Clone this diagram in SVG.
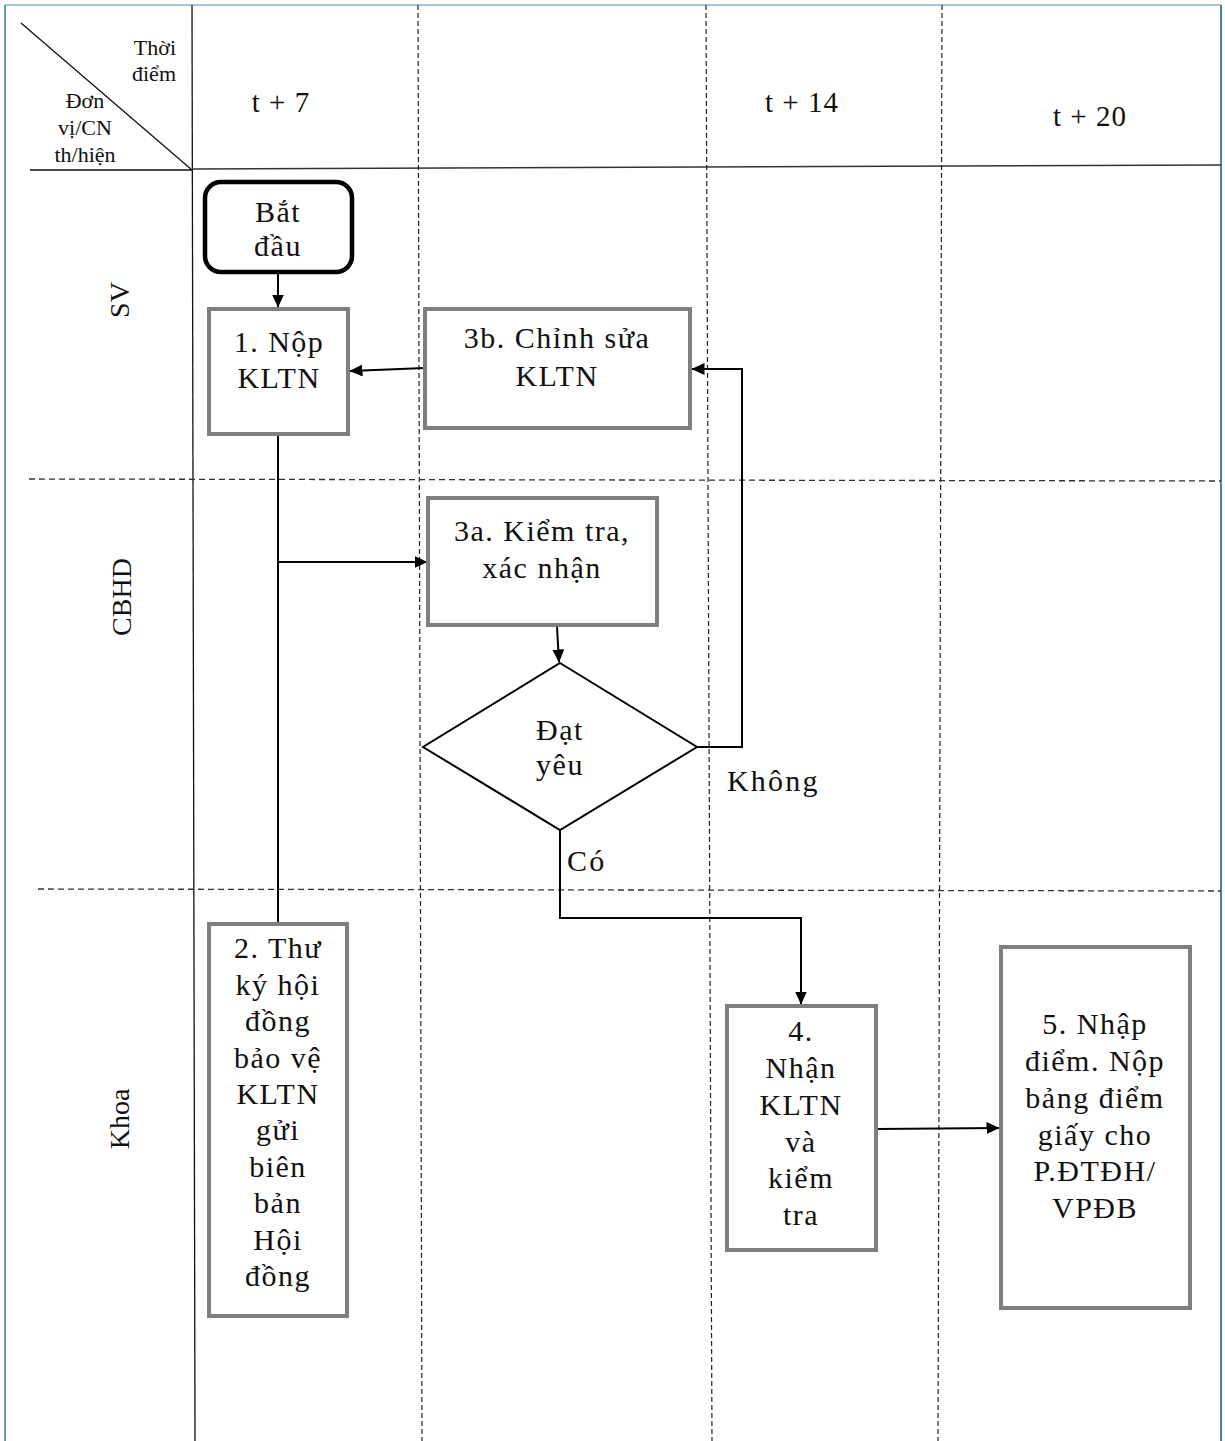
<svg xmlns="http://www.w3.org/2000/svg" width="1225" height="1441" viewBox="0 0 1225 1441">
<style>
  text { font-family: "Liberation Serif", "Times New Roman", "DejaVu Serif", serif; fill: #111; }
  .hd { font-size: 22px; }
  .col { font-size: 29px; letter-spacing: 1px; text-anchor: middle; }
  .lane { font-size: 28px; text-anchor: middle; }
  .t { font-size: 30px; letter-spacing: 1.5px; text-anchor: middle; }
  .lbl { font-size: 30px; letter-spacing: 2.2px; }
  .box { fill: #fff; stroke: #7f7f7f; stroke-width: 4; }
  .grid { stroke: #111; stroke-width: 1.3; fill: none; }
  .dashv { stroke: #222; stroke-width: 1.2; stroke-dasharray: 5 3; fill: none; }
  .dashh { stroke: #333; stroke-width: 1.3; stroke-dasharray: 6 4; fill: none; }
  .conn { stroke: #000; stroke-width: 2; fill: none; }
</style>
<defs>
  <marker id="arr" viewBox="0 0 13 12" refX="12.5" refY="6" markerWidth="13" markerHeight="12" markerUnits="userSpaceOnUse" orient="auto">
    <path d="M0,0 L13,6 L0,12 z" fill="#000"/>
  </marker>
</defs>
<rect width="1225" height="1441" fill="#fff"/>

<g id="frame">
  <line x1="5" y1="5" x2="1221" y2="5" stroke="#a9c5cd" stroke-width="2"/>
  <line x1="5" y1="5" x2="5" y2="1441" stroke="#6f9caa" stroke-width="2"/>
  <line x1="1221" y1="5" x2="1221" y2="1441" stroke="#3f89a1" stroke-width="2"/>
  <line class="grid" x1="192" y1="5" x2="195" y2="1441"/>
  <line class="grid" x1="30" y1="170" x2="192" y2="170"/>
  <line x1="192" y1="169" x2="1221" y2="165" stroke="#333" stroke-width="1.5"/>
  <line class="grid" x1="21" y1="23" x2="192" y2="170"/>
  <line class="dashv" x1="418" y1="5" x2="422" y2="1441"/>
  <line class="dashv" x1="706" y1="5" x2="712" y2="1441"/>
  <line class="dashv" x1="942" y1="5" x2="938" y2="1441"/>
  <line class="dashh" x1="29" y1="479" x2="1221" y2="481"/>
  <line class="dashh" x1="38" y1="889" x2="1221" y2="891"/>
</g>

<g id="header">
  <text class="hd" x="176" y="55" text-anchor="end">Thời</text>
  <text class="hd" x="176" y="81" text-anchor="end">điểm</text>
  <text class="hd" x="85" y="108" text-anchor="middle">Đơn</text>
  <text class="hd" x="85" y="135" text-anchor="middle">vị/CN</text>
  <text class="hd" x="85" y="162" text-anchor="middle">th/hiện</text>
  <text class="col" x="281" y="112">t + 7</text>
  <text class="col" x="802" y="112">t + 14</text>
  <text class="col" x="1090" y="126">t + 20</text>
</g>

<g id="lanes">
  <text class="lane" transform="translate(129,300) rotate(-90)">SV</text>
  <text class="lane" transform="translate(131,597) rotate(-90)">CBHD</text>
  <text class="lane" transform="translate(129,1119) rotate(-90)">Khoa</text>
</g>

<g id="connectors">
  <line class="conn" x1="278" y1="273" x2="278" y2="307" marker-end="url(#arr)"/>
  <line class="conn" x1="425" y1="368" x2="350" y2="371" marker-end="url(#arr)"/>
  <line class="conn" x1="278" y1="435" x2="278" y2="923"/>
  <polyline class="conn" points="278,562 427,562" marker-end="url(#arr)"/>
  <line class="conn" x1="557" y1="627" x2="559" y2="662" marker-end="url(#arr)"/>
  <polyline class="conn" points="697,747 742,747 742,369 692,369" marker-end="url(#arr)"/>
  <polyline class="conn" points="560,830 560,918 801,918 801,1004" marker-end="url(#arr)"/>
  <line class="conn" x1="877" y1="1129" x2="999" y2="1128" marker-end="url(#arr)"/>
  <text class="lbl" x="727" y="791">Không</text>
  <text class="lbl" x="567" y="871">Có</text>
</g>

<g id="start">
  <rect x="205" y="182" width="147" height="90" rx="16" fill="#fff" stroke="#000" stroke-width="4.5"/>
  <text class="t" x="278" y="222">Bắt</text>
  <text class="t" x="278" y="256">đầu</text>
</g>

<g id="n1">
  <rect class="box" x="209" y="309" width="139" height="125"/>
  <text class="t" x="279" y="352">1. Nộp</text>
  <text class="t" x="279" y="388">KLTN</text>
</g>

<g id="n3b">
  <rect class="box" x="425" y="309" width="265" height="119"/>
  <text class="t" x="557" y="348">3b. Chỉnh sửa</text>
  <text class="t" x="557" y="386">KLTN</text>
</g>

<g id="n3a">
  <rect class="box" x="428" y="498" width="229" height="127"/>
  <text class="t" x="542" y="541">3a. Kiểm tra,</text>
  <text class="t" x="542" y="578">xác nhận</text>
</g>

<g id="decision">
  <polygon points="560,663 697,747 560,830 423,747" fill="#fff" stroke="#000" stroke-width="2"/>
  <text class="t" x="560" y="740">Đạt</text>
  <text class="t" x="560" y="775">yêu</text>
</g>

<g id="n2">
  <rect class="box" x="209" y="924" width="138" height="392"/>
  <text class="t" x="278" y="958">2. Thư</text>
  <text class="t" x="278" y="995">ký hội</text>
  <text class="t" x="278" y="1031">đồng</text>
  <text class="t" x="278" y="1068">bảo vệ</text>
  <text class="t" x="278" y="1104">KLTN</text>
  <text class="t" x="278" y="1140">gửi</text>
  <text class="t" x="278" y="1177">biên</text>
  <text class="t" x="278" y="1213">bản</text>
  <text class="t" x="278" y="1250">Hội</text>
  <text class="t" x="278" y="1286">đồng</text>
</g>

<g id="n4">
  <rect class="box" x="727" y="1006" width="149" height="244"/>
  <text class="t" x="801" y="1041">4.</text>
  <text class="t" x="801" y="1078">Nhận</text>
  <text class="t" x="801" y="1115">KLTN</text>
  <text class="t" x="801" y="1152">và</text>
  <text class="t" x="801" y="1188">kiểm</text>
  <text class="t" x="801" y="1225">tra</text>
</g>

<g id="n5">
  <rect class="box" x="1001" y="947" width="189" height="361"/>
  <text class="t" x="1095" y="1034">5. Nhập</text>
  <text class="t" x="1095" y="1071">điểm. Nộp</text>
  <text class="t" x="1095" y="1108">bảng điểm</text>
  <text class="t" x="1095" y="1145">giấy cho</text>
  <text class="t" x="1095" y="1181">P.ĐTĐH/</text>
  <text class="t" x="1095" y="1218">VPĐB</text>
</g>
</svg>
